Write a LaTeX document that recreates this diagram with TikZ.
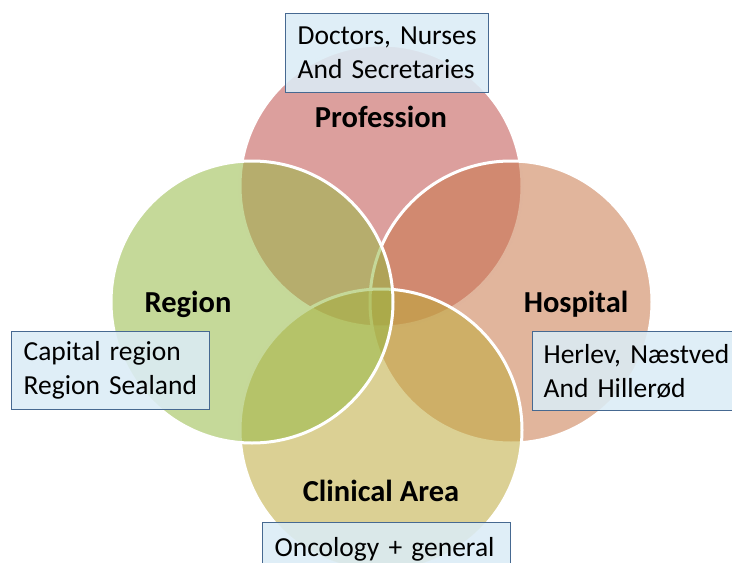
\documentclass[tikz,border=0pt]{standalone}
\usepackage{fontspec}
\setmainfont{Carlito}
\definecolor{profc}{RGB}{192,80,77}
\definecolor{regc}{RGB}{150,185,70}
\definecolor{hospc}{RGB}{200,120,75}
\definecolor{clinc}{RGB}{190,170,60}
\definecolor{boxfill}{RGB}{219,236,246}
\definecolor{boxline}{RGB}{70,105,145}
\tikzset{
  venn/.style={circle, minimum size=282pt, inner sep=0pt, draw=white, line width=3pt, fill opacity=0.55},
  vlabel/.style={font=\fontsize{30.5}{34}\selectfont\bfseries, text=black},
  infobox/.style={draw=boxline, line width=1.3pt, fill=boxfill, fill opacity=0.88, text opacity=1,
     font=\fontsize{27.5}{34}\selectfont, align=left, anchor=north west, inner ysep=0pt},
}
\begin{document}
\begin{tikzpicture}[x=1pt,y=-1pt]
\useasboundingbox (0,0) rectangle (732,563);
\clip (0,0) rectangle (732,563);
\node[venn, fill=profc] (prof) at (381,186) {};
\node[venn, fill=hospc] (hosp) at (511,302) {};
\node[venn, fill=clinc] (clin) at (381,430) {};
\node[venn, fill=regc] (reg) at (252,302) {};
\node[vlabel] (lprof) at (381,117) {Profession};
\node[vlabel] (lreg) at (188,304) {Region};
\node[vlabel] (lhosp) at (576,304) {Hospital};
\node[vlabel] (lclin) at (381,491) {Clinical Area};
\node[infobox, minimum width=203pt, minimum height=79pt, text width=179pt, inner xsep=12pt] (bprof) at (285,13) {Doctors, Nurses\\And Secretaries};
\node[infobox, minimum width=198pt, minimum height=78pt, text width=174pt, inner xsep=12pt] (breg) at (11,331) {Capital region\\Region Sealand};
\node[infobox, minimum width=215pt, minimum height=79pt, text width=193pt, inner xsep=11pt] (bhosp) at (532,331) {Herlev, Næstved\\And Hillerød};
\node[infobox, minimum width=248pt, minimum height=53pt, text width=224pt, inner xsep=12pt] (bclin) at (262,522) {Oncology + general};
\end{tikzpicture}
\end{document}
